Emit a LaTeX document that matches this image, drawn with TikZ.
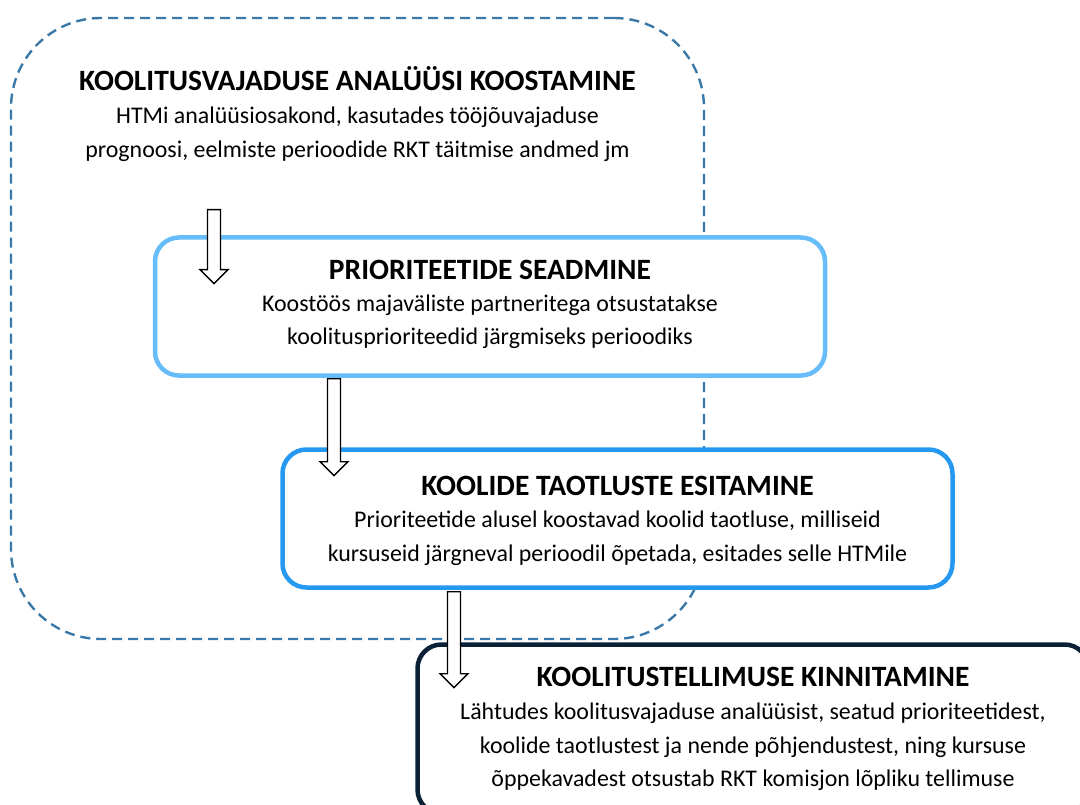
\documentclass[tikz,border=0pt]{standalone}
\usepackage{fontspec}
\setmainfont{Carlito}
\usetikzlibrary{shapes,arrows,positioning}

\definecolor{kriips}{HTML}{3A78A8}
\definecolor{helesinine}{HTML}{66BDFA}
\definecolor{sinine}{HTML}{2599F2}
\definecolor{tumesinine}{HTML}{0B2236}

\newcommand{\pealkiri}[1]{{\fontsize{29.5}{34}\selectfont\bfseries #1}}

\begin{document}
\begin{tikzpicture}[x=1pt, y=-1pt, node distance=1cm]
  % stiilid
  \tikzset{
   kast/.style={
           rectangle,
           rounded corners=24pt,
           line width=4.5pt,
           fill=white,
           minimum width=670pt,
           minimum height=138pt},
   tekst/.style={
           align=center,
           inner sep=0pt,
           font=\fontsize{23.9}{33.5}\selectfont},
   % noolte stiil
   nool/.style={
           single arrow,
           draw=black,
           fill=white,
           line width=1.4pt,
           inner sep=5.8pt,
           single arrow head extend=7.5pt,
           rotate=-90,
           anchor=tail}
  }
  \useasboundingbox (0,0) rectangle (1080,805);
  \clip (0,0) rectangle (1080,805);

  % Joonis
  \node[draw=kriips, line width=2.4pt, dash pattern=on 10pt off 6pt, rounded corners=90pt,
        minimum width=693pt, minimum height=621pt] (analyys) at (357.5,328.5) {};
  \node[tekst, below=49pt of analyys.north] (analyystekst)
       {\pealkiri{KOOLITUSVAJADUSE ANALÜÜSI KOOSTAMINE}\\
        HTMi analüüsiosakond, kasutades tööjõuvajaduse\\
        prognoosi, eelmiste perioodide RKT täitmise andmed jm};

  \node[kast, draw=helesinine] (prioriteedid) at (490,306.5) {};
  \node[tekst] (prioriteeditekst) at ([yshift=2pt]prioriteedid)
       {\pealkiri{PRIORITEETIDE SEADMINE}\\[-2pt]
        Koostöös majaväliste partneritega otsustatakse\\
        koolitusprioriteedid järgmiseks perioodiks};

  \node[kast, draw=sinine] (taotlused) at (617.5,518.5) {};
  \node[tekst] (taotlustekst) at ([yshift=-2pt]taotlused)
       {\pealkiri{KOOLIDE TAOTLUSTE ESITAMINE}\\[-1pt]
        Prioriteetide alusel koostavad koolid taotluse, milliseid\\
        kursuseid järgneval perioodil õpetada, esitades selle HTMile};

  \node[kast, draw=tumesinine, minimum width=671pt, minimum height=169pt] (tellimus) at (753,729) {};
  \node[tekst] (tellimustekst) at (tellimus)
       {\pealkiri{KOOLITUSTELLIMUSE KINNITAMINE}\\
        Lähtudes koolitusvajaduse analüüsist, seatud prioriteetidest,\\
        koolide taotlustest ja nende põhjendustest, ning kursuse\\
        õppekavadest otsustab RKT komisjon lõpliku tellimuse};

  % nooled
  \node[nool, minimum height=74pt] (nool1) at (214,209) {};
  \node[nool, minimum height=97pt] (nool2) at (334,378) {};
  \node[nool, minimum height=96pt] (nool3) at (454,591) {};
\end{tikzpicture}
\end{document}
